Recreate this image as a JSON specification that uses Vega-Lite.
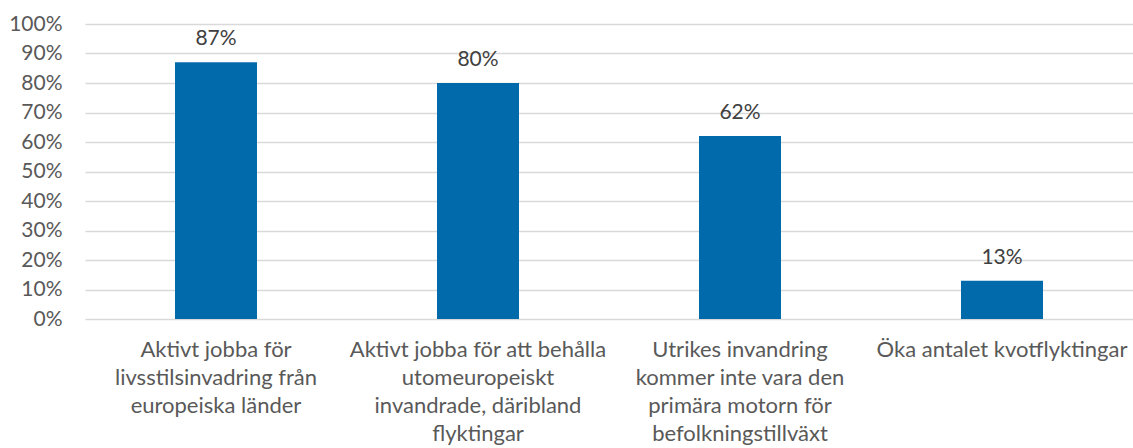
{
  "$schema": "https://vega.github.io/schema/vega-lite/v6.json",
  "autosize": "none",
  "width": 1048,
  "height": 295,
  "padding": {"left": 85, "top": 24, "right": 0, "bottom": 129},
  "background": "white",
  "config": {
    "view": {"stroke": null},
    "font": "Lato"
  },
  "data": {
    "values": [
      {"kategori": "Aktivt jobba för livsstilsinvadring från europeiska länder", "andel": 0.87},
      {"kategori": "Aktivt jobba för att behålla utomeuropeiskt invandrade, däribland flyktingar", "andel": 0.80},
      {"kategori": "Utrikes invandring kommer inte vara den primära motorn för befolkningstillväxt", "andel": 0.62},
      {"kategori": "Öka antalet kvotflyktingar", "andel": 0.13}
    ]
  },
  "encoding": {
    "x": {
      "field": "kategori",
      "type": "nominal",
      "sort": null,
      "scale": {"paddingInner": 0.687, "paddingOuter": 0.3435},
      "axis": {
        "title": null,
        "labelAngle": 0,
        "domain": false,
        "ticks": false,
        "labelFontSize": 22,
        "labelColor": "#595959",
        "labelPadding": 20,
        "labelLineHeight": 28,
        "labelLimit": 0,
        "labelExpr": "datum.value == 'Aktivt jobba för livsstilsinvadring från europeiska länder' ? ['Aktivt jobba för', 'livsstilsinvadring från', 'europeiska länder'] : datum.value == 'Aktivt jobba för att behålla utomeuropeiskt invandrade, däribland flyktingar' ? ['Aktivt jobba för att behålla', 'utomeuropeiskt', 'invandrade, däribland', 'flyktingar'] : datum.value == 'Utrikes invandring kommer inte vara den primära motorn för befolkningstillväxt' ? ['Utrikes invandring', 'kommer inte vara den', 'primära motorn för', 'befolkningstillväxt'] : datum.value"
      }
    },
    "y": {
      "field": "andel",
      "type": "quantitative",
      "scale": {"domain": [0, 1], "nice": false},
      "axis": {
        "title": null,
        "format": ".0%",
        "values": [0, 0.1, 0.2, 0.3, 0.4, 0.5, 0.6, 0.7, 0.8, 0.9, 1],
        "domain": false,
        "ticks": false,
        "grid": true,
        "gridColor": "#d9d9d9",
        "gridWidth": 1.3,
        "labelFontSize": 21,
        "labelColor": "#595959",
        "labelPadding": 23
      }
    }
  },
  "layer": [
    {"mark": {"type": "bar", "color": "#006AAB"}},
    {
      "mark": {"type": "text", "baseline": "alphabetic", "dy": -17, "fontSize": 21, "color": "#404040"},
      "encoding": {"text": {"field": "andel", "type": "quantitative", "format": ".0%"}}
    }
  ]
}
